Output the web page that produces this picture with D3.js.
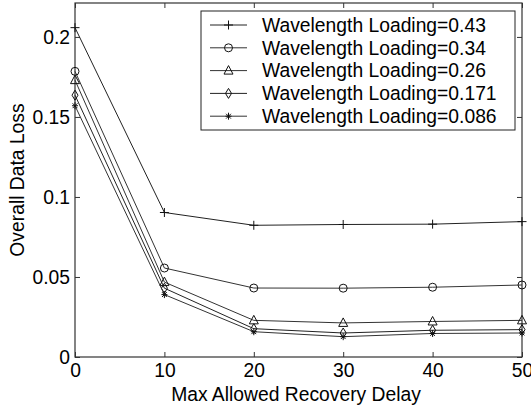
<html>
<meta charset="utf-8">
<head>
<script src="https://cdn.jsdelivr.net/npm/d3@7/dist/d3.min.js"></script>
<style>
  body { margin: 0; background: #fff; }
  text { font-family: "Liberation Sans", Arial, sans-serif; fill: #000; }
</style>
</head>
<body>
<svg id="chart" width="531" height="407"></svg>
<script>
// data
var delays = [0, 10, 20, 30, 40, 50];
var loadings = ["0.43", "0.34", "0.26", "0.171", "0.086"];
var loss043 = [0.2058, 0.0903, 0.0823, 0.0828, 0.0830, 0.0846];
var loss034 = [0.1785, 0.0556, 0.0431, 0.0430, 0.0436, 0.0450];
var loss026 = [0.1730, 0.0468, 0.0229, 0.0213, 0.0222, 0.0229];
var loss0171 = [0.1636, 0.0430, 0.0177, 0.0150, 0.0167, 0.0171];
var loss0086 = [0.1570, 0.0390, 0.0158, 0.0127, 0.0147, 0.0150];
var xTicks = [0, 10, 20, 30, 40, 50];
var yTicks = [0, 0.05, 0.1, 0.15, 0.2];
var yTickLabels = ["0", "0.05", "0.1", "0.15", "0.2"];

var series = [loss043, loss034, loss026, loss0171, loss0086];
var markers = ["plus", "circle", "triangle", "diamond", "star"];
var lineColors = ["#222", "#333", "#333", "#222", "#333"];

var svg = d3.select("#chart");
var padL = 75, padR = 522, padT = 3, padB = 357;
var fs = 19.3;

var x = d3.scaleLinear().domain([0, 50]).range([padL, padR]);
var y = d3.scaleLinear().domain([0, 0.2212]).range([padB, padT]);

// marker shapes (MATLAB-like, unfilled)
function markerPath(type) {
  if (type == "plus") return "M-4.5,0H4.5M0,-4.5V4.5";
  if (type == "circle") return "M-4,0A4,4 0 1,0 4,0A4,4 0 1,0 -4,0Z";
  if (type == "triangle") return "M0,-5L4.5,3.5L-4.5,3.5Z";
  if (type == "diamond") return "M0,-5L3,0L0,5L-3,0Z";
  return "M-3,0H3M0,-3.5V3.5M-2.4,-2.4L2.4,2.4M-2.4,2.4L2.4,-2.4";
}

// box and inward ticks
var axisColor = "#333";
svg.append("rect")
  .attr("x", padL).attr("y", padT)
  .attr("width", padR - padL).attr("height", padB - padT)
  .attr("fill", "none").attr("stroke", axisColor).attr("stroke-width", 1.2);

var xAxisB = d3.axisBottom(x).tickValues(xTicks).tickSizeInner(-5).tickSizeOuter(0).tickPadding(8);
var gx = svg.append("g").attr("transform", "translate(0," + padB + ")").call(xAxisB);
gx.select(".domain").remove();
gx.selectAll("line").attr("stroke", axisColor);
gx.selectAll("text").style("font-size", fs + "px").attr("dy", "0.75em").attr("y", 6);

var xAxisT = d3.axisTop(x).tickValues(xTicks).tickSizeInner(-5).tickSizeOuter(0).tickFormat("");
var gxt = svg.append("g").attr("transform", "translate(0," + padT + ")").call(xAxisT);
gxt.select(".domain").remove();
gxt.selectAll("line").attr("stroke", axisColor);

var yAxisL = d3.axisLeft(y).tickValues(yTicks).tickSizeInner(-5).tickSizeOuter(0).tickPadding(9)
  .tickFormat(function(d, i) { return yTickLabels[i]; });
var gy = svg.append("g").attr("transform", "translate(" + padL + ",0)").call(yAxisL);
gy.select(".domain").remove();
gy.selectAll("line").attr("stroke", axisColor);
gy.selectAll("text").style("font-size", fs + "px").attr("x", -5);

var yAxisR = d3.axisRight(y).tickValues(yTicks).tickSizeInner(-5).tickSizeOuter(0).tickFormat("");
var gyr = svg.append("g").attr("transform", "translate(" + padR + ",0)").call(yAxisR);
gyr.select(".domain").remove();
gyr.selectAll("line").attr("stroke", axisColor);

// lines and markers
var line = d3.line()
  .x(function(d, i) { return x(delays[i]); })
  .y(function(d) { return y(d); });

series.forEach(function(s, k) {
  svg.append("path")
    .attr("d", line(s))
    .attr("fill", "none")
    .attr("stroke", lineColors[k])
    .attr("stroke-width", 1);
  svg.selectAll(".m" + k)
    .data(s)
    .enter()
    .append("path")
    .attr("class", "m" + k)
    .attr("transform", function(d, i) { return "translate(" + x(delays[i]) + "," + y(d) + ")"; })
    .attr("d", markerPath(markers[k]))
    .attr("fill", "none")
    .attr("stroke", "#111")
    .attr("stroke-width", 1);
});

// axis titles
svg.append("text")
  .attr("x", 296).attr("y", 401)
  .attr("text-anchor", "middle")
  .style("font-size", fs + "px")
  .text("Max Allowed Recovery Delay");

svg.append("text")
  .attr("transform", "translate(24," + ((padT + padB) / 2) + ") rotate(-90)")
  .attr("text-anchor", "middle")
  .style("font-size", fs + "px")
  .text("Overall Data Loss");

// legend
var lg = svg.append("g");
lg.append("rect")
  .attr("x", 201).attr("y", 11)
  .attr("width", 314).attr("height", 119)
  .attr("fill", "#fff").attr("stroke", "#222").attr("stroke-width", 1);

loadings.forEach(function(name, k) {
  var ly = 25 + k * 22.8;
  lg.append("line")
    .attr("x1", 210).attr("x2", 247)
    .attr("y1", ly).attr("y2", ly)
    .attr("stroke", lineColors[k]).attr("stroke-width", 1);
  lg.append("path")
    .attr("transform", "translate(228.5," + ly + ")")
    .attr("d", markerPath(markers[k]))
    .attr("fill", "none").attr("stroke", "#111");
  lg.append("text")
    .attr("x", 262).attr("y", ly)
    .attr("dy", "0.35em")
    .style("font-size", fs + "px")
    .text("Wavelength Loading=" + name);
});
</script>
</body>
</html>
